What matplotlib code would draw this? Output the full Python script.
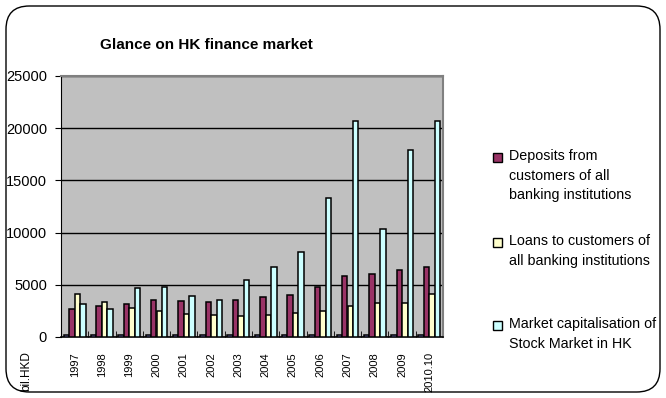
import matplotlib
matplotlib.use("Agg")
import matplotlib.pyplot as plt
import numpy as np
from matplotlib.patches import FancyBboxPatch, Rectangle

plt.rcParams['font.family'] = ['Liberation Sans', 'DejaVu Sans']

years = ['1997', '1998', '1999', '2000', '2001', '2002', '2003',
         '2004', '2005', '2006', '2007', '2008', '2009', '2010.10']

# bil. HKD
base_series = [150] * 14
deposits = [2660, 2955, 3180, 3530, 3405, 3320, 3570,
            3870, 4070, 4760, 5870, 6060, 6380, 6720]
loans = [4120, 3305, 2815, 2460, 2185, 2075, 2035,
         2155, 2310, 2470, 2960, 3290, 3290, 4150]
market_cap = [3200, 2660, 4730, 4800, 3885, 3560, 5480,
              6700, 8180, 13340, 20700, 10300, 17870, 20700]

legend_labels = ['Deposits from\ncustomers of all\nbanking institutions',
                 'Loans to customers of\nall banking institutions',
                 'Market capitalisation of\nStock Market in HK']
colors = ['#9999FF', '#993366', '#FFFFCC', '#CCFFFF']

fig = plt.figure(figsize=(6.66, 3.98), dpi=100)
ax = fig.add_axes([61 / 666, 1 - 337 / 398, (443 - 61) / 666, (337 - 76) / 398])

x = np.arange(len(years))
w = 0.2
series = [base_series, deposits, loans, market_cap]
for i, (vals, c) in enumerate(zip(series, colors)):
    ax.bar(x + (i - 1.5) * w, vals, w, color=c, edgecolor='black', linewidth=1.1, zorder=3)

ax.set_facecolor('#C0C0C0')
ax.set_xlim(-0.5, len(years) - 0.5)
ax.set_ylim(0, 25000)
ax.set_yticks(range(0, 25001, 5000))
ax.set_yticklabels([str(v) for v in range(0, 25001, 5000)], fontsize=10.5)
ax.grid(axis='y', color='black', linewidth=1.0, zorder=1)

ax.set_xticks(x)
ax.set_xticklabels(years, rotation=90, fontsize=8)
ax.set_xticks(np.arange(-0.5, len(years), 1), minor=True)
ax.tick_params(axis='x', which='major', length=0, pad=11)
ax.tick_params(axis='x', which='minor', direction='in', length=4, color='black')
ax.tick_params(axis='y', length=4, color='black', pad=6)

for side in ['top', 'right']:
    ax.spines[side].set_color('#808080')
    ax.spines[side].set_linewidth(1.5)
ax.spines['left'].set_color('black')
ax.spines['bottom'].set_color('black')
ax.spines['bottom'].set_linewidth(1.2)

fig.text(206 / 666, 1 - 45 / 398, 'Glance on HK finance market',
         fontsize=11, fontweight='bold', ha='center', va='center')
fig.text(26 / 666, 1 - 371 / 398, 'bil.HKD', rotation=90, fontsize=8.5,
         ha='center', va='center')

# legend drawn by hand to keep the wide spacing between entries
legend_y = [157, 242, 325]
for label, c, y in zip(legend_labels, colors[1:], legend_y):
    fig.patches.append(Rectangle((493 / 666, 1 - (y + 5) / 398), 9 / 666, 9 / 398,
                                 transform=fig.transFigure, facecolor=c,
                                 edgecolor='black', linewidth=1.0))
    fig.text(509 / 666, 1 - (y - 8) / 398, label, fontsize=10.3, ha='left', va='top',
             linespacing=1.5)

# rounded chart-area frame
fig.patches.append(FancyBboxPatch((6 / 666, 6 / 398), 654 / 666, 386 / 398,
                                  boxstyle='round,pad=0,rounding_size=0.035',
                                  transform=fig.transFigure, facecolor='none',
                                  edgecolor='black', linewidth=1.0,
                                  mutation_aspect=666 / 398))

fig.savefig('out.png', dpi=100)
